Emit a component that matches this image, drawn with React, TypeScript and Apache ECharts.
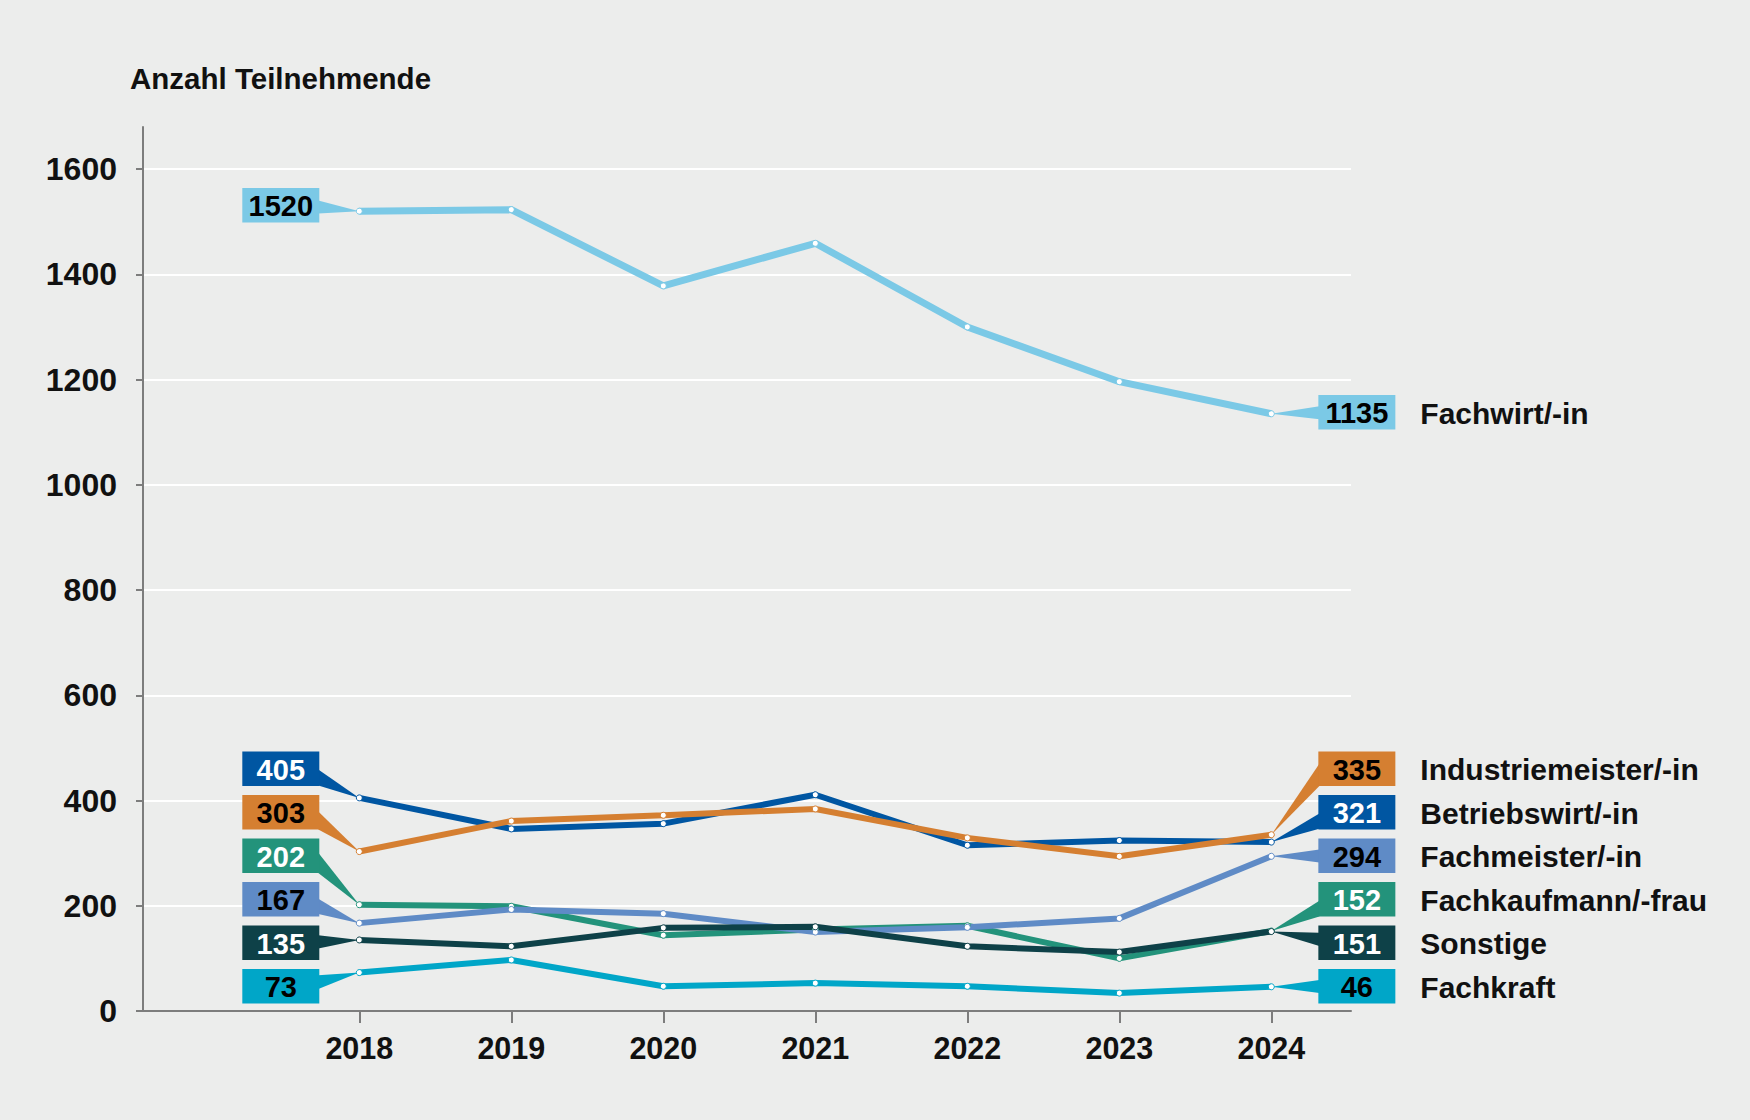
import React, { useEffect, useRef } from "react";
import * as echarts from "echarts";

// ---------- data ----------
const YEARS = [2018, 2019, 2020, 2021, 2022, 2023, 2024];
const Y_TICKS = [0, 200, 400, 600, 800, 1000, 1200, 1400, 1600];
const GRID_VALUES = [200, 400, 600, 800, 1000, 1200, 1400, 1600];

const fachwirt = [1520, 1523, 1378, 1459, 1300, 1196, 1135];
const industriemeister = [303, 361, 372, 384, 329, 294, 335];
const betriebswirt = [405, 346, 356, 411, 315, 324, 321];
const fachmeister = [167, 193, 185, 150, 159, 176, 294];
const fachkaufmann = [202, 199, 144, 155, 162, 100, 152];
const sonstige = [135, 123, 158, 160, 123, 112, 151];
const fachkraft = [73, 97, 47, 53, 47, 34, 46];

const TITLE = "Anzahl Teilnehmende";

// ---------- styling / layout ----------
const FONT = "'Liberation Sans', Arial, 'DejaVu Sans', sans-serif";
const BG = "#ecedec";
const AXIS_COLOR = "#7d7d7d";

type S = {
  name: string;
  data: number[];
  color: string;
  text: string;
  leftSlot: number;
  rightSlot: number;
  width: number;
};

// drawing order: bottom to top
const SERIES: S[] = [
  { name: "Fachkraft", data: fachkraft, color: "#00a6c8", text: "#000", leftSlot: 5, rightSlot: 5, width: 6 },
  { name: "Fachkaufmann/-frau", data: fachkaufmann, color: "#23937b", text: "#fff", leftSlot: 2, rightSlot: 3, width: 6 },
  { name: "Fachmeister/-in", data: fachmeister, color: "#5f8bc6", text: "#000", leftSlot: 3, rightSlot: 2, width: 6 },
  { name: "Sonstige", data: sonstige, color: "#0e4148", text: "#fff", leftSlot: 4, rightSlot: 4, width: 6 },
  { name: "Betriebswirt/-in", data: betriebswirt, color: "#0056a2", text: "#fff", leftSlot: 0, rightSlot: 1, width: 6 },
  { name: "Industriemeister/-in", data: industriemeister, color: "#d57f31", text: "#000", leftSlot: 1, rightSlot: 0, width: 6 },
  { name: "Fachwirt/-in", data: fachwirt, color: "#7bc9e6", text: "#000", leftSlot: -1, rightSlot: -1, width: 7 },
];

const SLOT_TOP = 768.7;
const SLOT_STEP = 43.5;
const BOX_W = 77;
const BOX_H = 34.5;
const GAP_LEFT = 40;
const GAP_RIGHT = 47;
const WEDGE_W = 13;

export default function App() {
  const ref = useRef<HTMLDivElement>(null);

  useEffect(() => {
    document.body.style.margin = "0";
    document.body.style.background = BG;
    if (!ref.current) return;
    const chart = echarts.init(ref.current, undefined, { renderer: "svg" });

    const calloutData: number[][] = [];
    SERIES.forEach((s, i) => {
      calloutData.push([YEARS[0], s.data[0], i, 0]);
      calloutData.push([YEARS[YEARS.length - 1], s.data[s.data.length - 1], i, 1]);
    });

    const renderItem = (params: any, api: any) => {
      const i = api.value(2);
      const side = api.value(3);
      const s = SERIES[i];
      const pt = api.coord([api.value(0), api.value(1)]);
      const slot = side === 0 ? s.leftSlot : s.rightSlot;
      const cy = slot < 0 ? pt[1] + (side === 0 ? -6 : -1.5) : SLOT_TOP + slot * SLOT_STEP;
      const bx = side === 0 ? pt[0] - GAP_LEFT - BOX_W : pt[0] + GAP_RIGHT;
      const edgeX = side === 0 ? bx + BOX_W - 1 : bx + 1;
      const dx = Math.abs(pt[0] - edgeX);
      const dy = pt[1] - cy;
      const ang = Math.atan2(Math.abs(dy), dx);
      let hw = WEDGE_W / 2 / Math.cos(ang);
      hw = Math.min(hw, BOX_H / 2 - 1);
      const lim = BOX_H / 2 - hw;
      const bc = cy + Math.max(-lim, Math.min(lim, dy * 0.3));
      const children: any[] = [
        {
          type: "polygon",
          shape: { points: [[edgeX, bc - hw], [edgeX, bc + hw], [pt[0], pt[1]]] },
          style: { fill: s.color },
        },
        {
          type: "rect",
          shape: { x: bx, y: cy - BOX_H / 2, width: BOX_W, height: BOX_H },
          style: { fill: s.color },
        },
        {
          type: "text",
          x: bx + BOX_W / 2,
          y: cy + 1,
          style: {
            text: String(api.value(1)),
            fill: s.text,
            fontSize: 29,
            fontWeight: "bold",
            fontFamily: FONT,
            align: "center",
            verticalAlign: "middle",
            textAlign: "center",
            textVerticalAlign: "middle",
          },
        },
      ];
      if (side === 1) {
        children.push({
          type: "text",
          x: bx + BOX_W + 25,
          y: cy + 1,
          style: {
            text: s.name,
            fill: "#111",
            fontSize: 30,
            fontWeight: "bold",
            fontFamily: FONT,
            align: "left",
            verticalAlign: "middle",
            textAlign: "left",
            textVerticalAlign: "middle",
          },
        });
      }
      return { type: "group", children };
    };

    const option: any = {
      animation: false,
      backgroundColor: BG,
      title: {
        text: TITLE,
        left: 130,
        top: 63,
        padding: 0,
        textStyle: { fontFamily: FONT, fontSize: 29.5, fontWeight: "bold", color: "#111" },
      },
      grid: { left: 143, right: 399, top: 127, bottom: 109, containLabel: false },
      xAxis: {
        type: "value",
        min: 2016.577,
        max: 2024.524,
        splitLine: { show: false },
        axisLine: { show: true, lineStyle: { color: AXIS_COLOR, width: 2 } },
        axisTick: { show: true, length: 12, lineStyle: { color: AXIS_COLOR, width: 2 }, customValues: YEARS },
        axisLabel: {
          customValues: YEARS,
          formatter: (v: number) => String(v),
          margin: 21,
          color: "#111",
          fontFamily: FONT,
          fontSize: 30.5,
          fontWeight: "bold",
        },
      },
      yAxis: {
        type: "value",
        min: 0,
        max: 1680,
        splitLine: { show: false },
        axisLine: { show: true, lineStyle: { color: AXIS_COLOR, width: 2 } },
        axisTick: { show: true, length: 7, lineStyle: { color: AXIS_COLOR, width: 2 }, customValues: Y_TICKS },
        axisLabel: {
          customValues: Y_TICKS,
          formatter: (v: number) => String(v),
          margin: 26,
          color: "#111",
          fontFamily: FONT,
          fontSize: 32,
          fontWeight: "bold",
        },
      },
      series: [
        {
          type: "line",
          data: [],
          z: 0,
          silent: true,
          markLine: {
            z: 0,
            silent: true,
            symbol: ["none", "none"],
            label: { show: false },
            lineStyle: { color: "#ffffff", width: 2, type: "solid" },
            emphasis: { disabled: true },
            data: GRID_VALUES.map((v) => ({ yAxis: v })),
          },
        },
        {
          type: "custom",
          z: 2,
          clip: false,
          silent: true,
          renderItem,
          data: calloutData,
        },
        ...SERIES.map((s) => ({
          type: "line",
          name: s.name,
          z: 3,
          data: YEARS.map((y, k) => [y, s.data[k]]),
          lineStyle: { color: s.color, width: s.width },
          symbol: "circle",
          symbolSize: 6,
          showSymbol: true,
          itemStyle: { color: "#ffffff", borderColor: s.color, borderWidth: 1 },
          emphasis: { disabled: true },
          silent: true,
        })),
      ],
    };

    chart.setOption(option);
    return () => chart.dispose();
  }, []);

  return (
    <div
      ref={ref}
      style={{ position: "absolute", left: 0, top: 0, width: 1750, height: 1120, background: BG }}
    />
  );
}
